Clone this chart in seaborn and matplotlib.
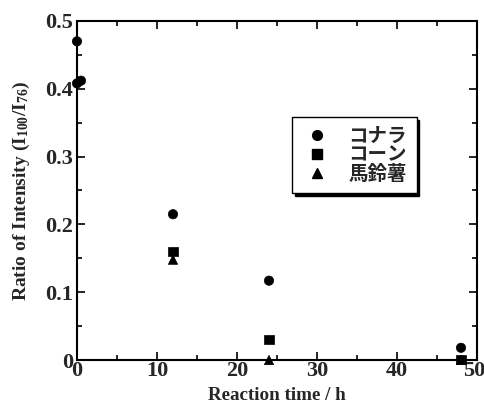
import matplotlib
matplotlib.use("Agg")
import matplotlib.pyplot as plt
import matplotlib.transforms as mtransforms
import seaborn as sns
import pandas as pd
from matplotlib.ticker import MultipleLocator
from matplotlib.lines import Line2D

# ---- data ----
series_names = ["コナラ", "コーン", "馬鈴薯"]
konara_time = [0, 0, 0.5, 12, 24, 48]
konara_ratio = [0.47, 0.408, 0.412, 0.215, 0.117, 0.018]
corn_time = [12, 24, 48]
corn_ratio = [0.160, 0.030, 0.001]
potato_time = [12, 24, 48]
potato_ratio = [0.148, 0.0, 0.0]

x_ticks = [0, 10, 20, 30, 40, 50]
y_ticks = [0, 0.1, 0.2, 0.3, 0.4, 0.5]
y_tick_labels = ["0", "0.1", "0.2", "0.3", "0.4", "0.5"]

df = pd.concat([
    pd.DataFrame({"time": konara_time, "ratio": konara_ratio, "sample": series_names[0]}),
    pd.DataFrame({"time": corn_time, "ratio": corn_ratio, "sample": series_names[1]}),
    pd.DataFrame({"time": potato_time, "ratio": potato_ratio, "sample": series_names[2]}),
], ignore_index=True)

sns.set_theme(style="ticks")
plt.rcParams["font.family"] = ["Liberation Serif", "Noto Sans CJK JP"]
plt.rcParams["font.weight"] = "bold"
plt.rcParams["mathtext.fontset"] = "custom"
plt.rcParams["mathtext.rm"] = "Liberation Serif:bold"
plt.rcParams["mathtext.it"] = "Liberation Serif:bold"
plt.rcParams["mathtext.bf"] = "Liberation Serif:bold"

fig = plt.figure(figsize=(4.85, 4.05), dpi=100)
ax = fig.add_axes([77 / 485, 1 - 360 / 405, (477 - 77) / 485, (360 - 21) / 405])

sns.scatterplot(data=df, x="time", y="ratio", style="sample",
                markers={series_names[0]: "o", series_names[1]: "s", series_names[2]: "^"},
                color="black", s=45, edgecolor="black", linewidth=0.5, ax=ax,
                legend=False, clip_on=False, zorder=5)

ax.set_xlim(0, 50)
ax.set_ylim(0, 0.5)
ax.set_xticks(x_ticks)
ax.set_yticks(y_ticks)
ax.set_yticklabels(y_tick_labels)
ax.xaxis.set_minor_locator(MultipleLocator(5))
ax.yaxis.set_minor_locator(MultipleLocator(0.05))
ax.tick_params(which="both", direction="in", top=True, right=True, width=1.2, color="black")
ax.tick_params(which="major", length=6, labelsize=16)
ax.tick_params(axis="x", which="major", pad=1)
ax.tick_params(axis="y", which="major", pad=3)
ax.tick_params(which="minor", length=3.5)
for lab in ax.get_xticklabels() + ax.get_yticklabels():
    lab.set_fontweight("bold")
ax.get_yticklabels()[0].set_verticalalignment("center_baseline")
# keep the last x label inside the canvas
last = ax.get_xticklabels()[-1]
last.set_transform(last.get_transform() + mtransforms.ScaledTranslation(-3 / 100, 0, fig.dpi_scale_trans))
for sp in ax.spines.values():
    sp.set_linewidth(1.5)
    sp.set_color("black")

ax.set_xlabel("Reaction time / h", fontsize=13.7, fontweight="bold", labelpad=4)
ax.set_ylabel(r"Ratio of Intensity (I$_{100}$/I$_{76}$)", fontsize=14, fontweight="bold", labelpad=9)

# legend
handles = [Line2D([], [], marker=m, color="black", linestyle="none", markersize=7)
           for m in ["o", "s", "^"]]
leg = ax.legend(handles, series_names, loc="upper left",
                bbox_to_anchor=((292 - 77) / 400, 1 - (117 - 21) / 339),
                frameon=True, fancybox=False, edgecolor="black", framealpha=1,
                shadow={"color": "black", "alpha": 1}, handletextpad=0.8, handlelength=1.6,
                labelspacing=0.0, borderpad=0.5,
                prop={"family": ["Noto Sans CJK JP"], "weight": "bold", "size": 14},
                borderaxespad=0)
leg.get_frame().set_linewidth(1.0)

fig.savefig("out.png", dpi=100, facecolor="white")
